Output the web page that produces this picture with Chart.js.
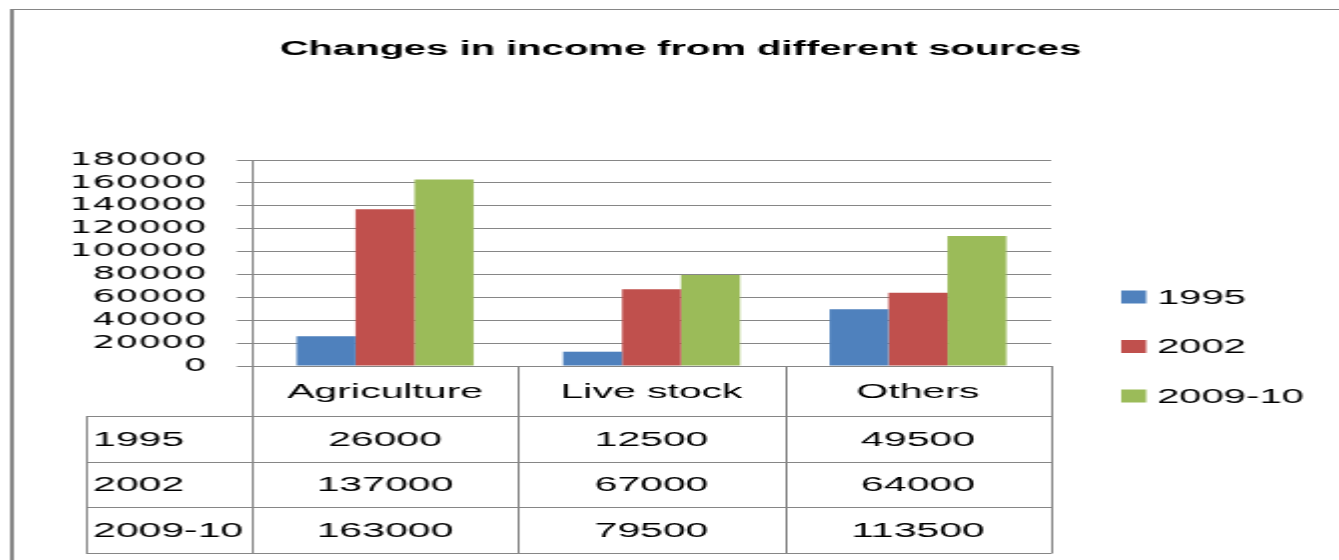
<!DOCTYPE html>
<html><head><meta charset="utf-8">
<script src="https://cdn.jsdelivr.net/npm/chart.js@4/dist/chart.umd.min.js"></script>
<style>
html,body{margin:0;padding:0;background:#fff;overflow:hidden;}
#wrap{width:1339px;height:560px;overflow:hidden;}
#c{display:block;transform-origin:0 0;transform:scaleX(1.998507);}
</style></head><body>
<div id="wrap"><canvas id="c" width="670" height="560"></canvas></div>
<script>
const chartTitle = 'Changes in income from different sources';
const categories = ['Agriculture', 'Live stock', 'Others'];
const seriesNames = ['1995', '2002', '2009-10'];
const values1995 = [26000, 12500, 49500];
const values2002 = [137000, 67000, 64000];
const values2009 = [163000, 79500, 113500];
const yTickValues = [0, 20000, 40000, 60000, 80000, 100000, 120000, 140000, 160000, 180000];
const seriesColors = ['#4F81BD', '#C0504D', '#9BBB59'];

const LINE = '#868686';
const FONT = "'Liberation Sans', Arial, sans-serif";

const framePlugin = {
  id: 'frame',
  beforeDraw(chart) {
    const ctx = chart.ctx;
    ctx.save();
    ctx.fillStyle = '#fff';
    ctx.fillRect(0, 0, chart.width, chart.height);
    ctx.fillStyle = LINE;
    ctx.fillRect(5, 9, 670, 1);
    ctx.fillRect(5, 9, 2, 560);
    ctx.restore();
  }
};

const tablePlugin = {
  id: 'dataTable',
  afterDraw(chart) {
    const ctx = chart.ctx;
    const xs = chart.scales.x;
    const area = chart.chartArea;
    const n = chart.data.labels.length;
    const edges = [];
    for (let i = 0; i <= n; i++) edges.push(xs.getPixelForValue(i - 0.5));
    const top = area.bottom;
    const headerH = 50;
    const rowH = 45.7;
    const ds = chart.data.datasets;
    const tableLeft = 43;
    const rowTops = [];
    for (let r = 0; r <= ds.length; r++) rowTops.push(top + headerH + r * rowH);
    const bottom = rowTops[ds.length];
    ctx.save();
    ctx.strokeStyle = LINE;
    ctx.lineWidth = 1;
    ctx.beginPath();
    edges.forEach(x => { const px = Math.round(x) + 0.5; ctx.moveTo(px, top); ctx.lineTo(px, bottom); });
    ctx.moveTo(tableLeft + 0.5, rowTops[0]); ctx.lineTo(tableLeft + 0.5, bottom);
    rowTops.forEach(y => { const py = Math.round(y) + 0.5; ctx.moveTo(tableLeft, py); ctx.lineTo(edges[n] + 0.5, py); });
    ctx.stroke();

    ctx.fillStyle = '#000';
    ctx.textBaseline = 'middle';
    ctx.font = '20.5px ' + FONT;
    ctx.textAlign = 'center';
    chart.data.labels.forEach((lab, i) => {
      ctx.fillText(lab, (edges[i] + edges[i + 1]) / 2, top + headerH / 2 + 1);
    });
    ds.forEach((d, r) => {
      const cy = rowTops[r] + rowH / 2 + 1;
      ctx.textAlign = 'left';
      ctx.fillText(d.label, tableLeft + 3.5, cy);
      ctx.textAlign = 'center';
      d.data.forEach((v, i) => ctx.fillText(String(v), (edges[i] + edges[i + 1]) / 2, cy));
    });
    ctx.restore();
  }
};

const legendPlugin = {
  id: 'sideLegend',
  afterDraw(chart) {
    const ctx = chart.ctx;
    const area = chart.chartArea;
    const x0 = area.right + 35;
    const y0 = 297;
    const gap = 49.5;
    ctx.save();
    ctx.font = '20px ' + FONT;
    ctx.textBaseline = 'middle';
    ctx.textAlign = 'left';
    chart.data.datasets.forEach((d, i) => {
      const cy = y0 + i * gap;
      ctx.fillStyle = d.backgroundColor;
      ctx.fillRect(x0, cy - 6.5, 12.5, 13);
      ctx.fillStyle = '#000';
      ctx.fillText(d.label, x0 + 18, cy + 1);
    });
    ctx.restore();
  }
};

const seriesValues = [values1995, values2002, values2009];

new Chart(document.getElementById('c'), {
  type: 'bar',
  data: {
    labels: categories,
    datasets: seriesNames.map((name, i) => ({
      label: name,
      data: seriesValues[i],
      backgroundColor: seriesColors[i],
      borderWidth: 0,
      categoryPercentage: 0.664,
      barPercentage: 1
    }))
  },
  options: {
    responsive: false,
    animation: false,
    devicePixelRatio: 1,
    layout: { padding: { left: 11, right: 0, top: 0, bottom: 194 } },
    plugins: {
      legend: { display: false },
      tooltip: { enabled: false },
      title: {
        display: true,
        text: chartTitle,
        color: '#000',
        font: { family: FONT, size: 20, weight: 'bold' },
        padding: { top: 37, bottom: 99 }
      }
    },
    scales: {
      x: {
        grid: { display: false, drawTicks: false },
        border: { display: false },
        ticks: { display: false }
      },
      y: {
        min: 0,
        max: 180000,
        afterBuildTicks(scale) { scale.ticks = yTickValues.map(v => ({ value: v })); },
        afterFit(scale) { scale.width = 115; },
        grid: { color: LINE, lineWidth: 1, tickLength: 7.5, tickColor: LINE },
        border: { display: true, color: LINE, width: 1 },
        ticks: {
          autoSkip: false,
          padding: 15,
          color: '#000',
          font: { family: "'DejaVu Sans', sans-serif", size: 18 },
          callback: v => String(v)
        }
      },
      yRight: {
        position: 'right',
        min: 0,
        max: 180000,
        afterFit(scale) { scale.width = 144; },
        grid: { display: false, drawTicks: false },
        border: { display: false },
        ticks: { display: false }
      }
    }
  },
  plugins: [framePlugin, tablePlugin, legendPlugin]
});
</script>
</body></html>
